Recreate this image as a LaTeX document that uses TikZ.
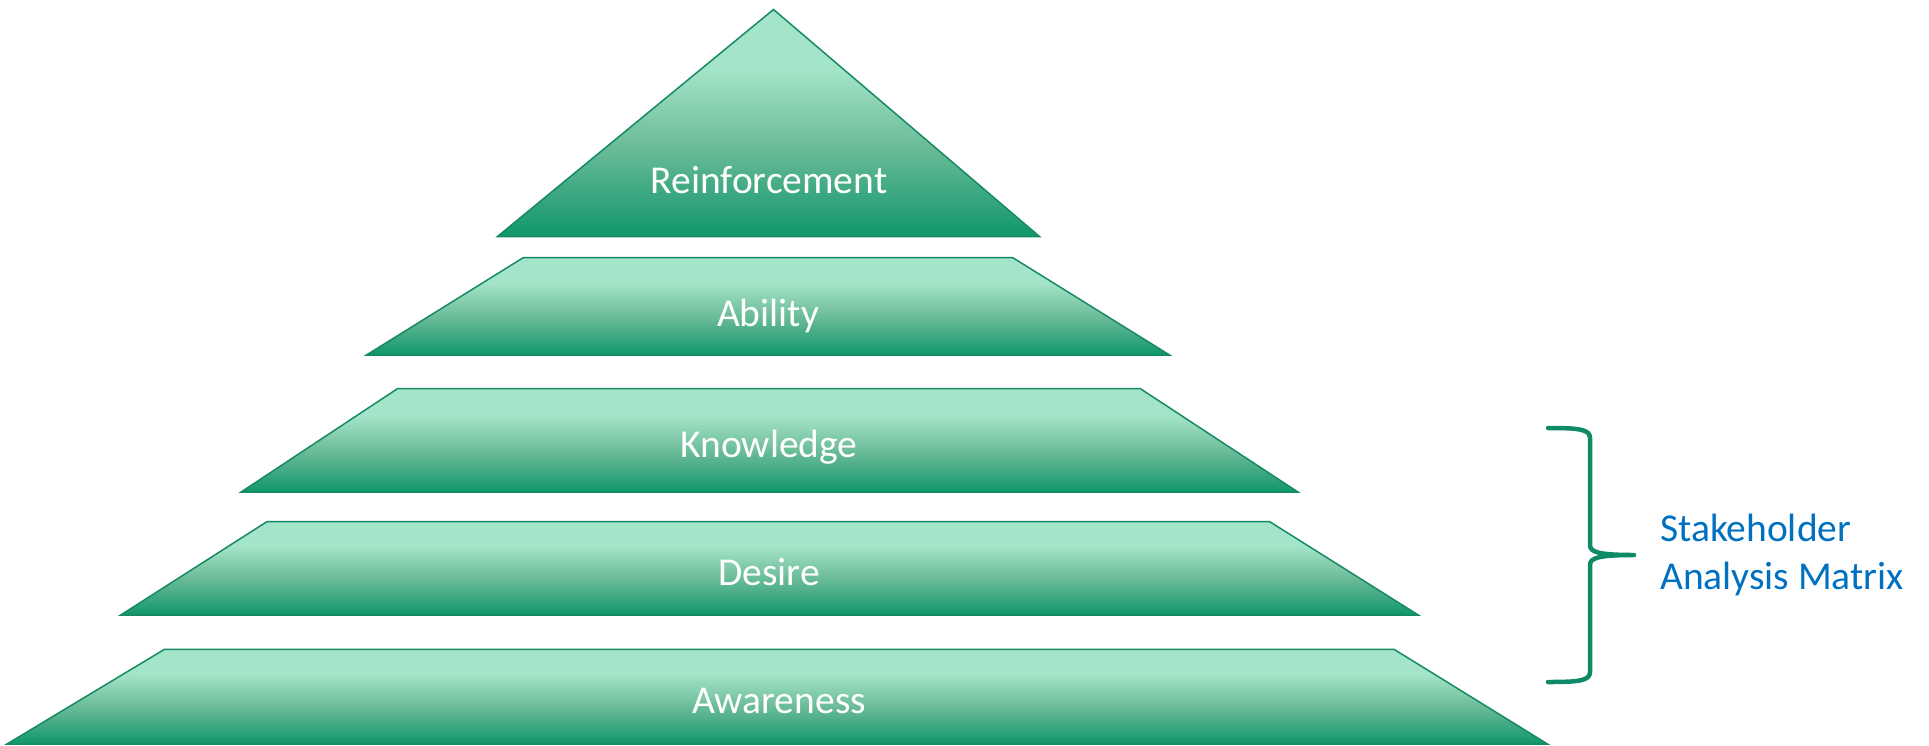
\documentclass[tikz,border=0pt]{standalone}
\usepackage{fontspec}
\setmainfont{Carlito}
\usepackage {tikz}
\usetikzlibrary {positioning}
\definecolor{tiertop}{RGB}{164,228,200}
\definecolor{tiermid}{RGB}{108,188,152}
\definecolor{tierbot}{RGB}{16,150,108}
\definecolor{tierline}{RGB}{22,138,100}
\definecolor{bracegreen}{RGB}{14,138,102}
\definecolor{noteblue}{RGB}{0,112,192}
\pgfdeclareverticalshading{tiershade}{100bp}{color(0bp)=(tierbot); color(25bp)=(tierbot); color(45bp)=(tiermid); color(62bp)=(tiertop); color(75bp)=(tiertop); color(100bp)=(tiertop)}
\tikzset{
    tier/.style = {draw=tierline, line width=1.5pt, shading=tiershade, line join=miter},
    tierlabel/.style = {text=white, font=\fontsize{39.5}{46}\selectfont, anchor=base, inner sep=0pt},
    bracket/.style = {draw=bracegreen, line width=4.5pt, line cap=round, line join=round},
    note/.style = {text=noteblue, font=\fontsize{39.5}{48}\selectfont, align=left, anchor=west, inner sep=0pt}}
\begin{document}
\begin{tikzpicture}[x=1pt,y=-1pt]
        \useasboundingbox (0,0) rectangle (1929,745);
        % top of the pyramid
        \path[tier] (773.5,9.5) -- (1039.5,236.5) -- (497.5,236.5) -- cycle;
        \node[tierlabel] (reinf) at (769,193.5) {Reinforcement};
        % the four lower tiers
        \foreach \ty/\by/\tl/\tr/\bl/\br/\lx/\ly/\nm/\txt in {
            257.5/355/523.5/1012.5/366.5/1169.5/768/326/abil/Ability,
            388.7/492/397.4/1140.4/241.1/1297.9/769/457/know/Knowledge,
            521.6/615.1/267/1269.6/120.6/1418.4/769/585/desire/Desire,
            649.3/744/164.5/1394/7/1547.5/779/713.5/aware/Awareness}
        {
            \path[tier] (\tl,\ty) -- (\tr,\ty) -- (\br,\by) -- (\bl,\by) -- cycle;
            \node[tierlabel] (\nm) at (\lx,\ly) {\txt};
        }
        % brace and its note
        \coordinate (btop) at (1548,428);
        \coordinate (btip) at (1634,555);
        \coordinate (bbot) at (1548,682);
        \draw[bracket] (btop) .. controls (1578,428) and (1590,429) .. (1590,438) -- (1590,545)
            .. controls (1590,552) and (1598,555) .. (btip)
            .. controls (1598,555) and (1590,558) .. (1590,565) -- (1590,672)
            .. controls (1590,681) and (1578,682) .. (bbot);
        \node[note, right=26pt of btip] (sam) {Stakeholder\\Analysis Matrix};
\end{tikzpicture}
\end{document}
